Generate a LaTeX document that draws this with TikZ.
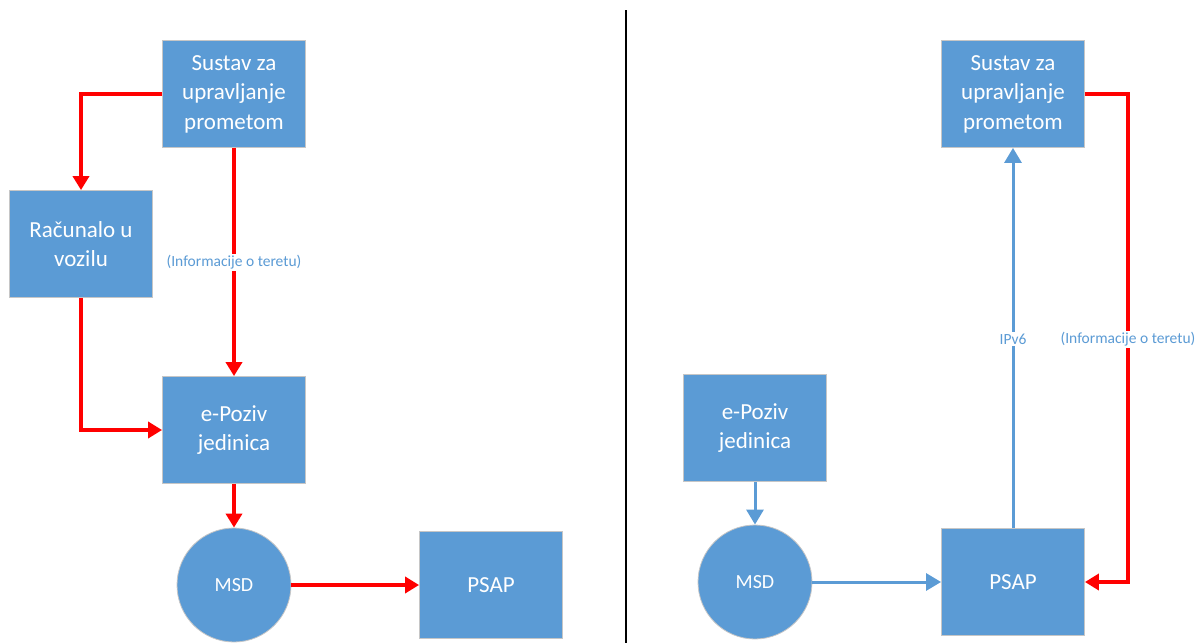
\documentclass[tikz,border=0pt]{standalone}
\usepackage{fontspec}
\setmainfont{Carlito}
\usetikzlibrary{arrows.meta}
\definecolor{boxblue}{HTML}{5B9BD5}
\definecolor{linered}{HTML}{FF0000}
\tikzset{
  unit/.style={rectangle, fill=boxblue, draw=gray!45, line width=0.8pt, minimum width=143pt, minimum height=107pt,
    text=white, align=center, font=\fontsize{23}{29.5}\selectfont},
  msdnode/.style={circle, fill=boxblue, draw=gray!45, line width=0.8pt, minimum size=114pt, inner sep=0pt,
    text=white, font=\fontsize{20}{24}\selectfont},
  redflow/.style={linered, line width=4pt, -{Triangle[width=16pt,length=14pt]}},
  blueflow/.style={boxblue, line width=3pt, -{Triangle[width=17pt,length=15pt]}},
  flowlabel/.style={fill=white, text=boxblue, inner sep=1.5pt, font=\fontsize{15.5}{18}\selectfont}
}
\begin{document}
\begin{tikzpicture}[x=1pt,y=-1pt]
    \useasboundingbox (0,0) rectangle (1200,643);
    \draw[line width=1.5pt] (626,10) -- (626,643);

    % left side
    \node[unit] (sustavL)   at (234,94)  {Sustav za\\upravljanje\\prometom};
    \node[unit] (racunalo)  at (81,244)  {Računalo u\\vozilu};
    \node[unit] (epozivL)   at (234,430) {e-Poziv\\jedinica};
    \node[msdnode] (msdL)   at (234,585) {MSD};
    \node[unit] (psapL)     at (491,585) {PSAP};

    \draw[redflow] (sustavL.west) -| (racunalo.north);
    \draw[redflow] (sustavL.south) -- node[flowlabel] (teretL) {(Informacije o teretu)} (epozivL.north);
    \draw[redflow] (racunalo.south) |- (epozivL.west);
    \draw[redflow] (epozivL.south) -- (msdL.north);
    \draw[redflow] (msdL.east) -- (psapL.west);

    % right side
    \node[unit] (sustavR)   at (1013,94)  {Sustav za\\upravljanje\\prometom};
    \node[unit] (epozivR)   at (755,428)  {e-Poziv\\jedinica};
    \node[msdnode] (msdR)   at (755,582)  {MSD};
    \node[unit] (psapR)     at (1013,582) {PSAP};
    \coordinate (turnR) at (1128,94);

    \draw[blueflow] (epozivR.south) -- (msdR.north);
    \draw[blueflow] (msdR.east) -- (psapR.west);
    \draw[blueflow] (psapR.north) -- (sustavR.south);
    \node[flowlabel] (ipv6) at (1013,339) {IPv6};
    \draw[redflow] (sustavR.east) -- (turnR) |- (psapR.east);
    \node[flowlabel] (teretR) at (1128,339) {(Informacije o teretu)};
  \end{tikzpicture}
\end{document}
